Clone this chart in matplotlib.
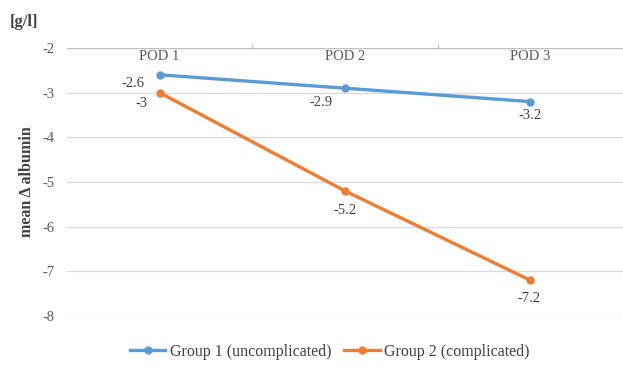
import matplotlib
matplotlib.use("Agg")
import matplotlib.pyplot as plt

categories = ["POD 1", "POD 2", "POD 3"]
group1 = [-2.6, -2.9, -3.2]
group2 = [-3.0, -5.2, -7.2]
series_names = ["Group 1 (uncomplicated)", "Group 2 (complicated)"]
yticks = [-2, -3, -4, -5, -6, -7, -8]

plt.rcParams['font.family'] = ['Liberation Serif', 'DejaVu Serif']

fig = plt.figure(figsize=(6.23, 3.75), dpi=100)
ax = fig.add_axes([67/623, 1-316/375, 556/623, (316-48)/375])

x = range(len(categories))
c1, c2 = "#5B9BD5", "#ED7D31"
ax.plot(x, group1, color=c1, lw=2.4, marker="o", ms=5, label=series_names[0], zorder=3)
ax.plot(x, group2, color=c2, lw=2.4, marker="o", ms=5, label=series_names[1], zorder=3)

ax.set_xlim(-0.5, 2.5)
ax.set_ylim(-8, -2)
ax.set_yticks(yticks)
ax.set_yticklabels([str(v) for v in yticks], fontsize=10.5, color="#595959")
ax.yaxis.grid(True, color="#D9D9D9", lw=0.9)
ax.set_axisbelow(True)
ax.tick_params(axis="y", length=0, pad=9)

# categories at top (axis crossing at -2)
ax.set_xticks([])
for i, c in enumerate(categories):
    ax.text(i, -2.18, c, ha="center", va="center", fontsize=10.5, color="#595959")
for b in [0.5, 1.5]:
    ax.plot([b, b], [-2, -1.93], color="#BFBFBF", lw=0.9, clip_on=False)

for s in ["top", "right", "bottom", "left"]:
    ax.spines[s].set_visible(False)
ax.axhline(-2, color="#BFBFBF", lw=0.9)

offsets1 = [(-19, -6), (-17, -10), (0, -10)]
offsets2 = [(-13, -8), (0, -14), (-1, -13)]
for i, v in enumerate(group1):
    ax.annotate(f"{v:g}", (i, v), xytext=offsets1[i], textcoords="offset points",
                ha="center", va="center", fontsize=10.5, color="#404040")
for i, v in enumerate(group2):
    ax.annotate(f"{v:g}", (i, v), xytext=offsets2[i], textcoords="offset points",
                ha="center", va="center", fontsize=10.5, color="#404040")

ax.set_ylabel("mean \u0394 albumin", fontsize=11.5, fontweight="bold", color="#404040", labelpad=5)
fig.text(10/623, 1-22/375, "[g/l]", fontsize=12, fontweight="bold", color="#404040", va="center")

leg = fig.legend(loc="center", bbox_to_anchor=(330/623, 1-352/375), ncol=2, frameon=False,
                 fontsize=11.5, handlelength=2.2, columnspacing=0.8, handletextpad=0.3, labelcolor="#404040")

fig.savefig("out.png", dpi=100)
